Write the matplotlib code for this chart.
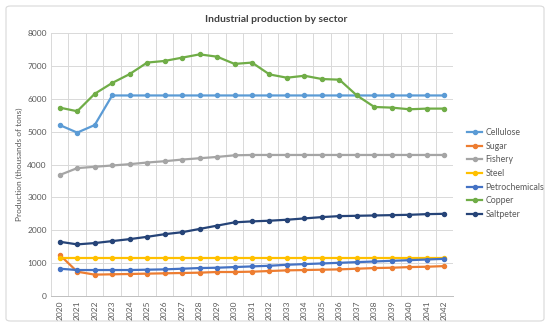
import matplotlib

matplotlib.use("Agg")
import matplotlib.pyplot as plt
from matplotlib.patches import FancyBboxPatch

YEARS = [str(y) for y in range(2020, 2043)]

CELLULOSE = [5200, 4970, 5200] + [6100] * 20
SUGAR = [1250, 740, 650, 660, 670, 680, 690, 700, 710, 730, 730, 740,
         760, 780, 790, 800, 810, 830, 850, 860, 880, 890, 910]
FISHERY = [3680, 3890, 3930, 3970, 4010, 4060, 4100, 4150, 4190, 4230, 4280,
           4290, 4290, 4290, 4290, 4290, 4290, 4290, 4290, 4290, 4290, 4290, 4290]
STEEL = [1170] * 23
PETROCHEMICALS = [830, 790, 790, 790, 790, 800, 810, 830, 850, 860, 880, 900,
                  920, 950, 970, 990, 1010, 1030, 1050, 1070, 1090, 1110, 1130]
COPPER = [5730, 5620, 6150, 6480, 6750, 7100, 7150, 7250, 7350, 7280, 7060, 7100,
          6740, 6640, 6700, 6600, 6580, 6100, 5750, 5730, 5680, 5700, 5700]
SALTPETER = [1650, 1570, 1610, 1670, 1730, 1800, 1880, 1940, 2040, 2140, 2240, 2270,
             2290, 2320, 2360, 2400, 2430, 2440, 2450, 2460, 2470, 2490, 2500]

SERIES = [
    ("Cellulose", CELLULOSE, "#5B9BD5"),
    ("Sugar", SUGAR, "#ED7D31"),
    ("Fishery", FISHERY, "#A5A5A5"),
    ("Steel", STEEL, "#FFC000"),
    ("Petrochemicals", PETROCHEMICALS, "#4472C4"),
    ("Copper", COPPER, "#70AD47"),
    ("Saltpeter", SALTPETER, "#264478"),
]

plt.rcParams["font.family"] = ["Lato", "DejaVu Sans"]
TEXT = "#595959"
GRID = "#D9D9D9"

W, H = 550, 328
fig = plt.figure(figsize=(W / 100, H / 100), dpi=100)
fig.patches.append(
    FancyBboxPatch((6 / W, 7 / H), 538 / W, 315 / H,
                   boxstyle="round,pad=0,rounding_size=0.008",
                   transform=fig.transFigure, fc="none", ec="#D9D9D9", lw=0.8,
                   zorder=-10)
)
ax = fig.add_axes([51 / W, 32 / H, 402 / W, 263 / H])
ax.patch.set_alpha(0)

x = list(range(len(YEARS)))
for name, vals, color in SERIES:
    ax.plot(x, vals, "-o", color=color, lw=1.6, ms=2.9, label=name)

ax.set_xlim(-0.5, len(YEARS) - 0.5)
ax.set_ylim(0, 8000)
ax.set_yticks(range(0, 8001, 1000))
ax.set_xticks(x)
ax.set_xticklabels(YEARS, rotation=90)
ax.set_xticks([i - 0.5 for i in range(len(YEARS) + 1)], minor=True)
ax.grid(True, axis="y", color=GRID, lw=0.7)
ax.grid(True, axis="x", which="minor", color=GRID, lw=0.7)
ax.set_axisbelow(True)
ax.tick_params(axis="both", which="both", length=0, labelsize=6,
               colors=TEXT, pad=3)
for side in ("left", "right", "top"):
    ax.spines[side].set_visible(False)
ax.spines["bottom"].set_color("#BFBFBF")
ax.spines["bottom"].set_linewidth(0.7)

ax.set_ylabel("Production (thousands of tons)", fontsize=6, color=TEXT, labelpad=3)
fig.text(276 / W, 1 - 19 / H, "Industrial production by sector",
         ha="center", va="center", fontsize=7.5, color="#404040", fontweight="bold")

ax.legend(loc="upper left", bbox_to_anchor=(463 / W, 1 - 124 / H),
          bbox_transform=fig.transFigure, frameon=False, fontsize=6.3,
          labelcolor=TEXT, handlelength=1.7, handletextpad=0.35,
          labelspacing=0.52, borderpad=0)

fig.savefig("out.png", dpi=100)
